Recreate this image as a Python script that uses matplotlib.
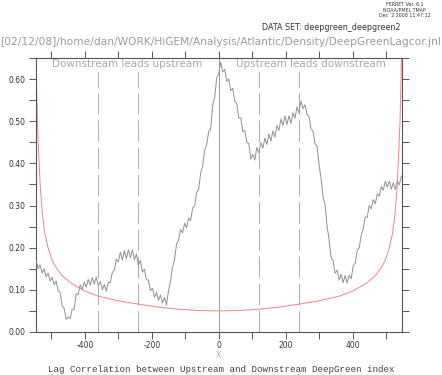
import numpy as np
import matplotlib
matplotlib.use("Agg")
import matplotlib.pyplot as plt
from matplotlib.ticker import MultipleLocator, FuncFormatter

# ---- data ----
lags = np.arange(-546, 547, 6)
corr = [0.170, 0.151, 0.159, 0.140, 0.150, 0.131, 0.140, 0.121, 0.130, 0.112,
        0.121, 0.098, 0.094, 0.062, 0.056, 0.030, 0.036, 0.032, 0.054, 0.054,
        0.091, 0.089, 0.112, 0.100, 0.119, 0.106, 0.125, 0.111, 0.129, 0.114,
        0.130, 0.110, 0.120, 0.100, 0.113, 0.097, 0.118, 0.117, 0.141, 0.147,
        0.173, 0.166, 0.189, 0.171, 0.193, 0.174, 0.195, 0.176, 0.195, 0.171,
        0.185, 0.158, 0.170, 0.142, 0.149, 0.124, 0.123, 0.098, 0.104, 0.082,
        0.094, 0.075, 0.088, 0.069, 0.082, 0.064, 0.099, 0.121, 0.154, 0.171,
        0.209, 0.217, 0.243, 0.235, 0.258, 0.247, 0.270, 0.264, 0.294, 0.299,
        0.331, 0.339, 0.376, 0.394, 0.431, 0.444, 0.476, 0.481, 0.538, 0.557,
        0.603, 0.612, 0.640, 0.617, 0.623, 0.595, 0.600, 0.572, 0.578, 0.547,
        0.543, 0.507, 0.508, 0.475, 0.478, 0.449, 0.448, 0.410, 0.422, 0.408,
        0.438, 0.425, 0.450, 0.436, 0.460, 0.445, 0.470, 0.453, 0.477, 0.462,
        0.490, 0.478, 0.505, 0.490, 0.512, 0.492, 0.513, 0.495, 0.520, 0.507,
        0.534, 0.520, 0.548, 0.530, 0.539, 0.516, 0.511, 0.482, 0.476, 0.446,
        0.441, 0.396, 0.364, 0.321, 0.301, 0.251, 0.219, 0.176, 0.169, 0.139,
        0.147, 0.123, 0.137, 0.117, 0.134, 0.116, 0.135, 0.126, 0.157, 0.163,
        0.193, 0.200, 0.230, 0.245, 0.273, 0.272, 0.300, 0.292, 0.314, 0.304,
        0.328, 0.322, 0.345, 0.336, 0.358, 0.344, 0.358, 0.339, 0.354, 0.338,
        0.358, 0.349, 0.370]

sig_lags = [-547, -545, -542, -538, -533, -527, -520, -510, -500, -490, -470,
            -440, -400, -360, -300, -240, -180, -120, -60, 0,
            60, 120, 180, 240, 300, 360, 400, 440, 470, 490, 500, 510, 520,
            527, 533, 538, 542, 545, 547]
sig_vals = [0.700, 0.600, 0.500, 0.420, 0.340, 0.280, 0.235, 0.200, 0.175,
            0.158, 0.135, 0.115, 0.097, 0.085, 0.074, 0.066, 0.059, 0.054,
            0.051, 0.050,
            0.051, 0.054, 0.059, 0.066, 0.074, 0.085, 0.097, 0.115, 0.135,
            0.158, 0.175, 0.200, 0.235, 0.280, 0.340, 0.420, 0.500, 0.600,
            0.700]

dashed_lags = [-360, -240, 120, 240]
label_left = "Downstream leads upstream"
label_right = "Upstream leads downstream"
x_tick_labels = [-400, -200, 0, 200, 400]

# ---- figure ----
fig = plt.figure(figsize=(4.42, 3.75), dpi=100)
ax = fig.add_axes([0.0808, 0.1147, 0.9088 - 0.0808, 0.8453 - 0.1147])

axcol = "#555555"
ax.plot(lags, corr, color="#909090", lw=0.7, zorder=3)
ax.plot(sig_lags, sig_vals, color="#ff8080", lw=0.7, zorder=2)
ax.axvline(0, color="#999999", lw=0.7, zorder=1)
for xl in dashed_lags:
    ax.plot([xl, xl], [0, 0.617], color="#aaaaaa", lw=0.7,
            linestyle=(0, (22, 6)), zorder=1)

ax.set_xlim(-547, 547)
ax.set_ylim(0, 0.65)
ax.xaxis.set_major_locator(MultipleLocator(100))
ax.yaxis.set_major_locator(MultipleLocator(0.05))
ax.xaxis.set_major_formatter(FuncFormatter(
    lambda v, p: f"{int(round(v))}" if int(round(v)) in x_tick_labels else ""))
ax.yaxis.set_major_formatter(FuncFormatter(
    lambda v, p: f"{v:.2f}" if abs(round(v * 100)) % 10 == 0 else ""))
ax.tick_params(direction="out", length=5, width=0.7, color=axcol,
               labelsize=5.5, labelcolor="#333333", top=True, right=True,
               pad=2.5)
ax.tick_params(axis="x", pad=1.5)
for s in ax.spines.values():
    s.set_color(axcol)
    s.set_linewidth(0.8)

ax.text(-275, 0.636, label_left, ha="center", va="center",
        color="#a8a8a8", fontsize=7.5)
ax.text(275, 0.636, label_right, ha="center", va="center",
        color="#a8a8a8", fontsize=7.5)

fig.text(218.3 / 442, 1 - 356 / 375, "X", ha="center", va="center",
         color="#aaaaaa", fontsize=5.5)

fig.text(0.5, 1 - 369 / 375, "Lag Correlation between Upstream and Downstream DeepGreen index",
         ha="center", va="center", family="Liberation Mono", fontsize=6.6,
         color="#444444")
fig.text(0.5, 1 - 42 / 375, "[02/12/08]/home/dan/WORK/HiGEM/Analysis/Atlantic/Density/DeepGreenLagcor.jnl",
         ha="center", va="center", fontsize=7.65, color="#9a9a9a")
fig.text(0.593, 1 - 27 / 375, "DATA SET: deepgreen_deepgreen2", ha="left", va="center",
         fontsize=5.8, color="#333333")
fig.text(0.915, 0.994, "FERRET Ver. 6.1\nNOAA/PMEL TMAP\nDec  2 2008 11:47:12",
         ha="center", va="top", fontsize=3.4, color="#333333", linespacing=1.05)

fig.savefig("out.png", dpi=100)
